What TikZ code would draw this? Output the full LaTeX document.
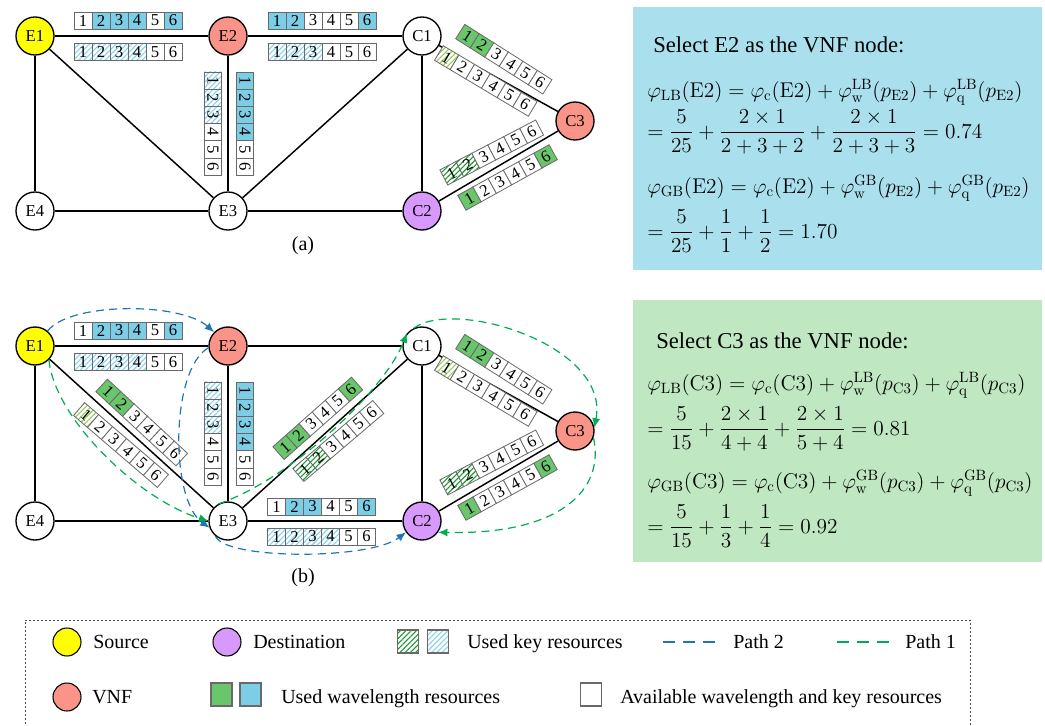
\documentclass[tikz,border=0pt]{standalone}
\usepackage{fix-cm}
\usepackage{amsmath}
\usepackage[no-math]{fontspec}
\setmainfont{Liberation Serif}
\usetikzlibrary{arrows.meta,patterns.meta}

\definecolor{srcyellow}{RGB}{255,255,0}
\definecolor{vnfred}{RGB}{250,148,136}
\definecolor{destpurple}{RGB}{215,153,252}
\definecolor{wblue}{RGB}{124,206,230}
\definecolor{wgreen}{RGB}{106,198,108}
\definecolor{hatchblue}{RGB}{135,210,238}
\definecolor{hatchgreen}{RGB}{30,150,50}
\definecolor{hatchlight}{RGB}{155,200,95}
\definecolor{pathblue}{RGB}{30,118,180}
\definecolor{pathgreen}{RGB}{0,172,80}
\definecolor{panelblue}{RGB}{170,224,238}
\definecolor{panelgreen}{RGB}{190,231,194}
\definecolor{cellgray}{RGB}{105,105,105}

\tikzset{
  vertex/.style={circle, draw, line width=1pt, fill=white, minimum size=28.5pt,
    inner sep=0pt, font=\fontsize{12.5}{12.5}\selectfont},
  link/.style={line width=1.1pt},
  cell/.style={draw=cellgray, line width=0.6pt, minimum height=12.75pt, inner sep=0pt,
    transform shape, font=\fontsize{12.5}{12.5}\selectfont},
  kcw/.style={fill=white},
  kcb/.style={fill=wblue},
  kcg/.style={fill=wgreen},
  hatch/.style={preaction={fill=white},
    pattern={Lines[angle=45,distance=2.8pt,line width=0.8pt]}, pattern color=#1},
  khb/.style={hatch=hatchblue},
  khg/.style={hatch=hatchgreen},
  khl/.style={hatch=hatchlight},
  cellkind/.code={\pgfkeysalso{k#1}},
  pone/.style={draw=pathgreen, line width=0.9pt, dash pattern=on 6pt off 4pt,
    -{Latex[length=7pt,width=6pt]}},
  ptwo/.style={draw=pathblue, line width=0.9pt, dash pattern=on 6pt off 4pt,
    -{Latex[length=7pt,width=6pt]}},
  heading/.style={font=\fontsize{17}{20}\selectfont, anchor=base west, inner sep=0pt},
  formula/.style={font=\fontsize{16}{19}\selectfont, anchor=base west, inner sep=0pt},
  sublabel/.style={font=\fontsize{15}{18}\selectfont, inner sep=0pt},
  legtext/.style={font=\fontsize{15}{18}\selectfont, anchor=base west, inner sep=0pt},
  legdot/.style={circle, draw, line width=0.8pt, minimum size=21pt, inner sep=0pt},
  legsq/.style={draw=cellgray, line width=0.8pt, minimum width=15.75pt,
    minimum height=17.25pt, inner sep=0pt},
  legline/.style={line width=1.2pt, dash pattern=on 9pt off 6pt},
  legframe/.style={draw=black!70, line width=0.6pt, dash pattern=on 1.5pt off 1.5pt},
}

% a strip of six numbered resource slots
% #1 name, #2 centre, #3 angle, #4 pitch (px), #5 list of slot kinds
\newcommand\cellstrip[5]{%
  \begin{scope}[shift={#2},rotate=#3]
    \foreach \t [count=\i] in {#5}{%
      \node[cell, minimum width={#4*0.75pt}, cellkind/.expanded=\t]
        (#1-\i) at ({(\i-3.5)*#4},0) {\i};
    }
  \end{scope}}

% the seven-node network, #1 is the name suffix
\newcommand\netnodes[1]{%
  \node[vertex, fill=srcyellow]  (E1#1) at (35,36)   {E1};
  \node[vertex, fill=vnfred]     (E2#1) at (228,36)  {E2};
  \node[vertex]                  (E4#1) at (35,211)  {E4};
  \node[vertex]                  (E3#1) at (228,211) {E3};
  \node[vertex]                  (C1#1) at (422,36)  {C1};
  \node[vertex, fill=vnfred]     (C3#1) at (575,121) {C3};
  \node[vertex, fill=destpurple] (C2#1) at (422,211) {C2};
  \foreach \u/\v in {E1/E2,E1/E4,E1/E3,E2/E3,E4/E3,E3/C1,E3/C2,E2/C1,C1/C2,C1/C3,C2/C3}
    \draw[link] (\u#1) -- (\v#1);
}

% slots shared by both networks
\newcommand\commonstrips[1]{%
  \cellstrip{#1e12t}{(128,20.5)}{0}{18}{cw,cb,cb,cb,cw,cb}
  \cellstrip{#1e12b}{(128,52)}{0}{18}{hb,hb,hb,hb,cw,cw}
  \cellstrip{#1e23l}{(213,123.5)}{-90}{17.2}{hb,hb,hb,cw,cw,cw}
  \cellstrip{#1e23r}{(245,123.5)}{-90}{17.2}{cb,cb,cb,cb,cw,cw}
  \cellstrip{#1c13t}{(503.8,59.2)}{-32.4}{17.2}{cg,cg,cw,cw,cw,cw}
  \cellstrip{#1c13b}{(485.8,81)}{-30.8}{18.2}{hl,cw,cw,cw,cw,cw}
  \cellstrip{#1c23t}{(491.7,152.5)}{27.5}{18}{hg,hg,cw,cw,cw,cw}
  \cellstrip{#1c23b}{(507.5,177.5)}{29}{17.4}{cg,cw,cw,cw,cw,cg}
}

\begin{document}
\begin{tikzpicture}[x=0.75pt,y=-0.75pt]
\useasboundingbox (0,0) rectangle (1045,725);
\clip (0,0) rectangle (1045,725);

% ---------- network (a) ----------
\netnodes{a}
\commonstrips{a}
\cellstrip{ae2c1t}{(322,20.5)}{0}{18}{cb,cb,cw,cw,cw,cb}
\cellstrip{ae2c1b}{(322,52)}{0}{18}{hb,hb,hb,cw,cw,cw}
\node[sublabel] (laba) at (303,246) {(a)};

% ---------- network (b) ----------
\begin{scope}[shift={(0,310)}]
  \netnodes{b}
  \commonstrips{b}
  \cellstrip{be13t}{(141.7,112.5)}{-42.8}{18.2}{cg,cg,cw,cw,cw,cw}
  \cellstrip{be13b}{(121,135)}{-40.6}{18.4}{hl,cw,cw,cw,cw,cw}
  \cellstrip{be3c1t}{(317.8,108.3)}{41.5}{17.5}{cg,cg,cw,cw,cw,cg}
  \cellstrip{be3c1b}{(338.3,131)}{40.4}{17.5}{hg,hg,cw,cw,cw,cw}
  \cellstrip{be3c2t}{(321.5,196.5)}{0}{18}{cw,cb,cb,cw,cw,cb}
  \cellstrip{be3c2b}{(321.5,226.5)}{0}{18}{hb,hb,hb,hb,cw,cw}
  \node[sublabel] (labb) at (303,268) {(b)};
\end{scope}

% path 2
\draw[ptwo] (E1b.50) .. controls (70,302) and (180,302) .. (E2b.135);
\draw[ptwo] (E2b.185) .. controls (170,370) and (170,500) .. (E3b.200);
\draw[ptwo] (E3b.230) .. controls (225,560) and (370,560) .. (C2b.215);
% path 1
\draw[pone] (E1b.-45) .. controls (55,420) and (140,500) .. (E3b.180);
\draw[pone] (E3b.120) .. controls (290,480) and (385,390) .. (C1b.140);
\draw[pone] (C1b.115) .. controls (455,298) and (610,345) .. (C3b.10);
\draw[pone] (C3b.-20) .. controls (605,490) and (560,535) .. (C2b.-35);

% ---------- computation panels ----------
\fill[panelblue] (633,7) rectangle (1042,270);
\node[heading] (selE2) at (653,52) {Select E2 as the VNF node:};
\node[formula] (lbE2) at (647,97)
  {$\varphi_{\mathrm{LB}}(\mathrm{E2})=\varphi_{\mathrm{c}}(\mathrm{E2})+\varphi_{\mathrm{w}}^{\mathrm{LB}}(p_{\mathrm{E2}})+\varphi_{\mathrm{q}}^{\mathrm{LB}}(p_{\mathrm{E2}})$};
\node[formula] (lbE2v) at (647,138)
  {$=\dfrac{5}{25}+\dfrac{2\times1}{2+3+2}+\dfrac{2\times1}{2+3+3}=0.74$};
\node[formula] (gbE2) at (647,193)
  {$\varphi_{\mathrm{GB}}(\mathrm{E2})=\varphi_{\mathrm{c}}(\mathrm{E2})+\varphi_{\mathrm{w}}^{\mathrm{GB}}(p_{\mathrm{E2}})+\varphi_{\mathrm{q}}^{\mathrm{GB}}(p_{\mathrm{E2}})$};
\node[formula] (gbE2v) at (647,238)
  {$=\dfrac{5}{25}+\dfrac{1}{1}+\dfrac{1}{2}=1.70$};

\fill[panelgreen] (633,300) rectangle (1042,562);
\node[heading] (selC3) at (656,348) {Select C3 as the VNF node:};
\node[formula] (lbC3) at (647,390)
  {$\varphi_{\mathrm{LB}}(\mathrm{C3})=\varphi_{\mathrm{c}}(\mathrm{C3})+\varphi_{\mathrm{w}}^{\mathrm{LB}}(p_{\mathrm{C3}})+\varphi_{\mathrm{q}}^{\mathrm{LB}}(p_{\mathrm{C3}})$};
\node[formula] (lbC3v) at (647,435)
  {$=\dfrac{5}{15}+\dfrac{2\times1}{4+4}+\dfrac{2\times1}{5+4}=0.81$};
\node[formula] (gbC3) at (647,488)
  {$\varphi_{\mathrm{GB}}(\mathrm{C3})=\varphi_{\mathrm{c}}(\mathrm{C3})+\varphi_{\mathrm{w}}^{\mathrm{GB}}(p_{\mathrm{C3}})+\varphi_{\mathrm{q}}^{\mathrm{GB}}(p_{\mathrm{C3}})$};
\node[formula] (gbC3v) at (647,533)
  {$=\dfrac{5}{15}+\dfrac{1}{3}+\dfrac{1}{4}=0.92$};

% ---------- legend ----------
\draw[legframe] (25,740) -- (25,620) -- (970,620) -- (970,740);
\node[legdot, fill=srcyellow] (lgsrc) at (67,642) {};
\node[legtext] (lgsrct) at (93,648.5) {Source};
\node[legdot, fill=destpurple] (lgdst) at (227,642) {};
\node[legtext] (lgdstt) at (253,648.5) {Destination};
\node[legsq, khg] (lgkg) at (408,641.5) {};
\node[legsq, khb] (lgkb) at (438,641.5) {};
\node[legtext] (lgkt) at (467,648.5) {Used key resources};
\coordinate (lgp2a) at (663,642);
\coordinate (lgp2b) at (717,642);
\draw[legline, draw=pathblue] (lgp2a) -- (lgp2b);
\node[legtext] (lgp2t) at (733,648.5) {Path 2};
\coordinate (lgp1a) at (837,642);
\coordinate (lgp1b) at (890,642);
\draw[legline, draw=pathgreen] (lgp1a) -- (lgp1b);
\node[legtext] (lgp1t) at (905,648.5) {Path 1};

\node[legdot, fill=vnfred] (lgvnf) at (67,697) {};
\node[legtext] (lgvnft) at (92,703.5) {VNF};
\node[legsq, fill=wgreen] (lgwg) at (221.5,694.5) {};
\node[legsq, fill=wblue] (lgwb) at (250.5,694.5) {};
\node[legtext] (lgwt) at (281,703.5) {Used wavelength resources};
\node[legsq, fill=white] (lgav) at (591,694.5) {};
\node[legtext] (lgavt) at (620,703.5) {Available wavelength and key resources};
\end{tikzpicture}
\end{document}
